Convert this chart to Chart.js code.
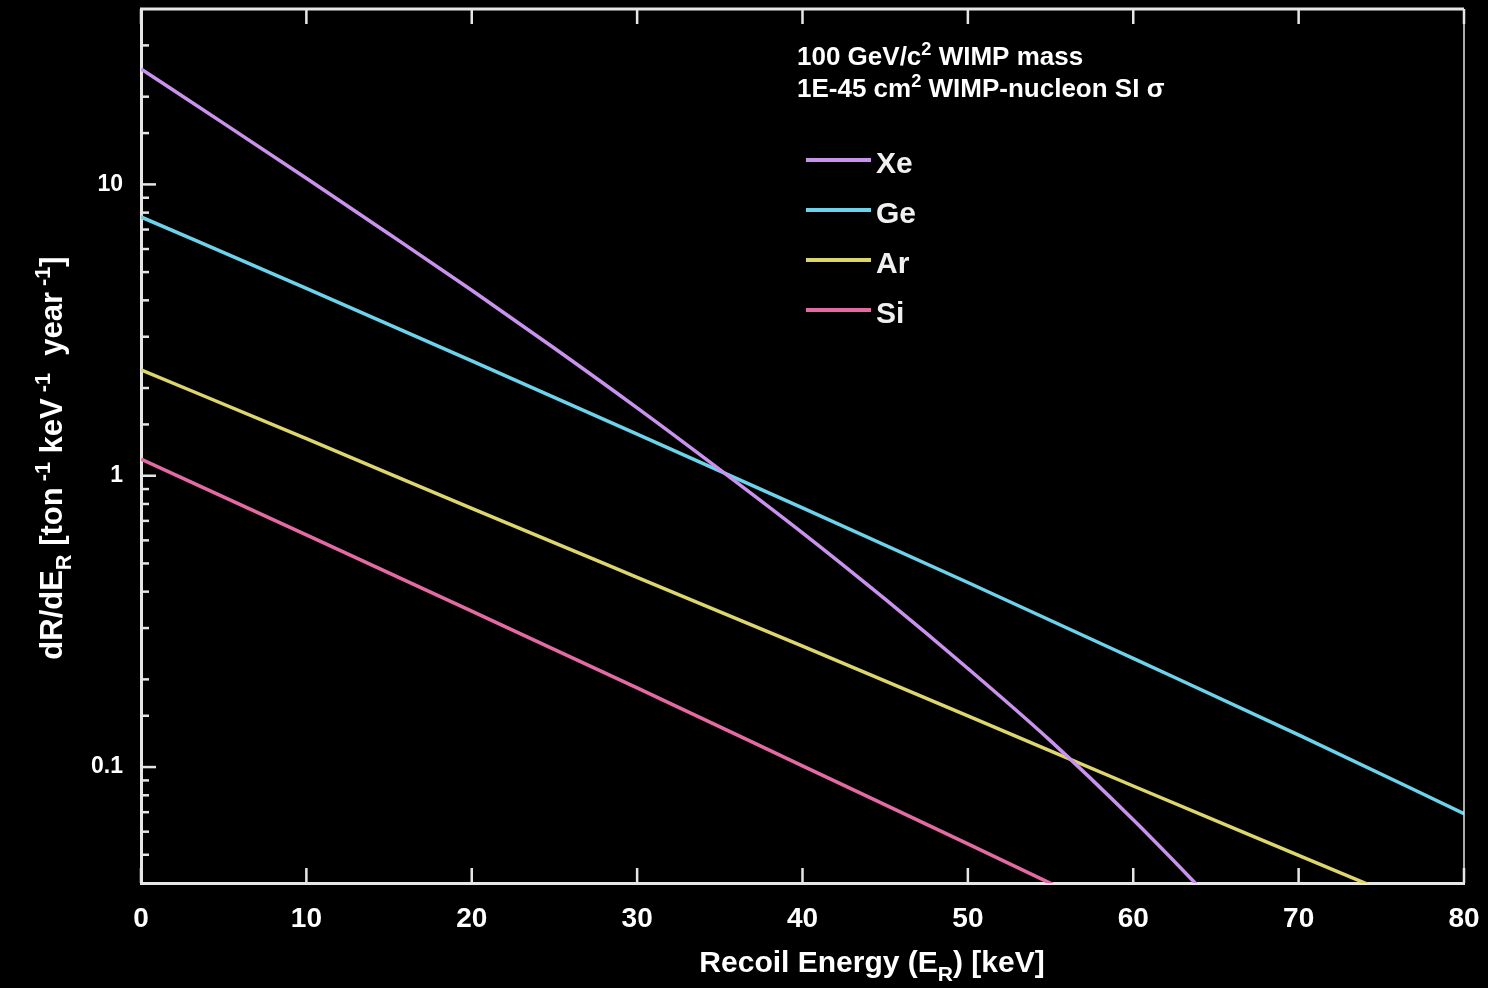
<!DOCTYPE html>
<html>
<head>
<meta charset="utf-8">
<script src="https://cdn.jsdelivr.net/npm/chart.js@4.4.1/dist/chart.umd.min.js"></script>
<style>
  html, body { margin: 0; padding: 0; background: #000; }
  canvas { display: block; }
</style>
</head>
<body>
<canvas id="rateChart" width="1488" height="988"></canvas>
<script>
// recoil energy [keV] and rates [ton^-1 keV^-1 year^-1]
var xeEnergy = [0, 5, 10, 15, 20, 25, 30, 35, 40, 45, 50, 55, 60, 65];
var xeRate   = [24.9, 16.2, 10.5, 6.76, 4.33, 2.74, 1.71, 1.05, 0.637, 0.377, 0.218, 0.123, 0.0659, 0.0338];

var geEnergy = [0, 10, 20, 30, 40, 50, 60, 70, 80];
var geRate   = [7.73, 4.40, 2.48, 1.39, 0.776, 0.430, 0.236, 0.129, 0.0692];

var arEnergy = [0, 10, 20, 30, 40, 50, 60, 70, 80];
var arRate   = [2.31, 1.34, 0.773, 0.448, 0.260, 0.150, 0.0861, 0.0498, 0.0288];

var siEnergy = [0, 10, 20, 30, 40, 50, 60];
var siRate   = [1.14, 0.627, 0.343, 0.187, 0.101, 0.0545, 0.0292];

var seriesNames  = ['Xe', 'Ge', 'Ar', 'Si'];
var seriesColors = ['#c992ec', '#6cd3ea', '#dcd66c', '#e36aa2'];

var yLabelTicks = [0.1, 1, 10];

var axisColor = '#e6e6e6';
var font = '"Liberation Sans", Arial, Helvetica, sans-serif';

function toPoints(xs, ys) {
    return xs.map(function(x, i) { return { x: x, y: ys[i] }; });
}

function isDecade(v) {
    var l = Math.log10(v);
    return Math.abs(l - Math.round(l)) < 1e-9;
}

// text with sub/superscript pieces
function richWidth(ctx, parts, size) {
    var w = 0;
    parts.forEach(function(p) {
        ctx.font = 'bold ' + (p.s ? size * 0.7 : size) + 'px ' + font;
        w += ctx.measureText(p.t).width;
    });
    return w;
}
function drawRich(ctx, parts, x, y, size) {
    parts.forEach(function(p) {
        var sz = p.s ? size * 0.7 : size;
        var dy = p.s === 'sup' ? -size * 0.38 : (p.s === 'sub' ? size * 0.3 : 0);
        ctx.font = 'bold ' + sz + 'px ' + font;
        ctx.fillText(p.t, x, y + dy);
        x += ctx.measureText(p.t).width;
    });
}

var datasets = [
    toPoints(xeEnergy, xeRate),
    toPoints(geEnergy, geRate),
    toPoints(arEnergy, arRate),
    toPoints(siEnergy, siRate)
].map(function(pts, i) {
    return {
        label: seriesNames[i],
        data: pts,
        borderColor: seriesColors[i],
        backgroundColor: seriesColors[i],
        borderWidth: 3.5,
        pointRadius: 0,
        cubicInterpolationMode: 'monotone',
        fill: false
    };
});

var framePlugin = {
    id: 'frame',
    afterDraw: function(chart) {
        var ctx = chart.ctx;
        var area = chart.chartArea;
        var xs = chart.scales.x, ys = chart.scales.y;
        ctx.save();
        ctx.strokeStyle = axisColor;

        // top and right frame
        ctx.lineWidth = 3;
        ctx.beginPath();
        ctx.moveTo(area.left - 1, area.top);
        ctx.lineTo(area.right, area.top);
        ctx.stroke();
        ctx.lineWidth = 1.5;
        ctx.beginPath();
        ctx.moveTo(area.right, area.top);
        ctx.lineTo(area.right, area.bottom);
        ctx.stroke();

        // inward tick marks
        ctx.lineWidth = 2.5;
        xs.ticks.forEach(function(t) {
            var px = xs.getPixelForValue(t.value);
            ctx.beginPath();
            ctx.moveTo(px, area.bottom);
            ctx.lineTo(px, area.bottom - 15);
            ctx.moveTo(px, area.top);
            ctx.lineTo(px, area.top + 15);
            ctx.stroke();
        });
        ys.ticks.forEach(function(t) {
            var py = ys.getPixelForValue(t.value);
            if (py < area.top + 2 || py > area.bottom - 2) return;
            var len = isDecade(t.value) ? 15 : 8;
            ctx.beginPath();
            ctx.moveTo(area.left, py);
            ctx.lineTo(area.left + len, py);
            ctx.stroke();
        });

        ctx.fillStyle = '#ffffff';

        // axis titles
        ctx.textBaseline = 'alphabetic';
        ctx.textAlign = 'left';
        var xTitle = [{ t: 'Recoil Energy (E' }, { t: 'R', s: 'sub' }, { t: ') [keV]' }];
        var w = richWidth(ctx, xTitle, 30);
        drawRich(ctx, xTitle, 872 - w / 2, 972, 30);

        var yTitle = [{ t: 'dR/dE' }, { t: 'R', s: 'sub' }, { t: ' [ton' }, { t: ' -1', s: 'sup' },
                      { t: ' keV' }, { t: ' -1', s: 'sup' }, { t: '  year' }, { t: ' -1', s: 'sup' }, { t: ']' }];
        ctx.save();
        ctx.translate(62, 458);
        ctx.rotate(-Math.PI / 2);
        w = richWidth(ctx, yTitle, 31);
        drawRich(ctx, yTitle, -w / 2, 0, 31);
        ctx.restore();

        // notes
        drawRich(ctx, [{ t: '100 GeV/c' }, { t: '2', s: 'sup' }, { t: ' WIMP mass' }], 797, 65, 26);
        drawRich(ctx, [{ t: '1E-45 cm' }, { t: '2', s: 'sup' }, { t: ' WIMP-nucleon SI \u03C3' }], 797, 97, 26);

        // legend
        chart.data.datasets.forEach(function(ds, i) {
            var ly = 160 + i * 50;
            ctx.strokeStyle = ds.borderColor;
            ctx.lineWidth = 4;
            ctx.beginPath();
            ctx.moveTo(806, ly);
            ctx.lineTo(871, ly);
            ctx.stroke();
            ctx.fillStyle = '#f0f0f0';
            ctx.font = 'bold 30px ' + font;
            ctx.textBaseline = 'middle';
            ctx.fillText(ds.label, 876, ly + 5);
        });
        ctx.restore();
    }
};

var ctxRate = document.getElementById('rateChart').getContext('2d');
var rateChart = new Chart(ctxRate, {
    type: 'line',
    data: { datasets: datasets },
    options: {
        responsive: false,
        animation: false,
        layout: { padding: { left: 0, right: 24, top: 9, bottom: 0 } },
        plugins: {
            legend: { display: false },
            tooltip: { enabled: false }
        },
        scales: {
            x: {
                type: 'linear',
                min: 0,
                max: 80,
                afterFit: function(s) {
                    s.height = 105;
                    s.paddingLeft = 0;
                    s.paddingRight = 0;
                },
                grid: { display: false, drawTicks: false },
                border: { display: true, color: axisColor, width: 3 },
                ticks: {
                    stepSize: 10,
                    color: '#ffffff',
                    padding: 19,
                    maxRotation: 0,
                    font: { family: font, size: 28, weight: 'bold' }
                }
            },
            y: {
                type: 'logarithmic',
                min: 0.04,
                max: 40,
                afterFit: function(s) {
                    s.width = 141;
                    s.paddingTop = 0;
                    s.paddingBottom = 0;
                },
                grid: { display: false, drawTicks: false },
                border: { display: true, color: axisColor, width: 3 },
                ticks: {
                    autoSkip: false,
                    color: '#ffffff',
                    padding: 18,
                    font: { family: font, size: 23, weight: 'bold' },
                    callback: function(v) {
                        for (var i = 0; i < yLabelTicks.length; i++) {
                            if (Math.abs(v - yLabelTicks[i]) < 1e-9 * yLabelTicks[i]) return String(yLabelTicks[i]);
                        }
                        return '';
                    }
                }
            }
        }
    },
    plugins: [framePlugin]
});
</script>
</body>
</html>
